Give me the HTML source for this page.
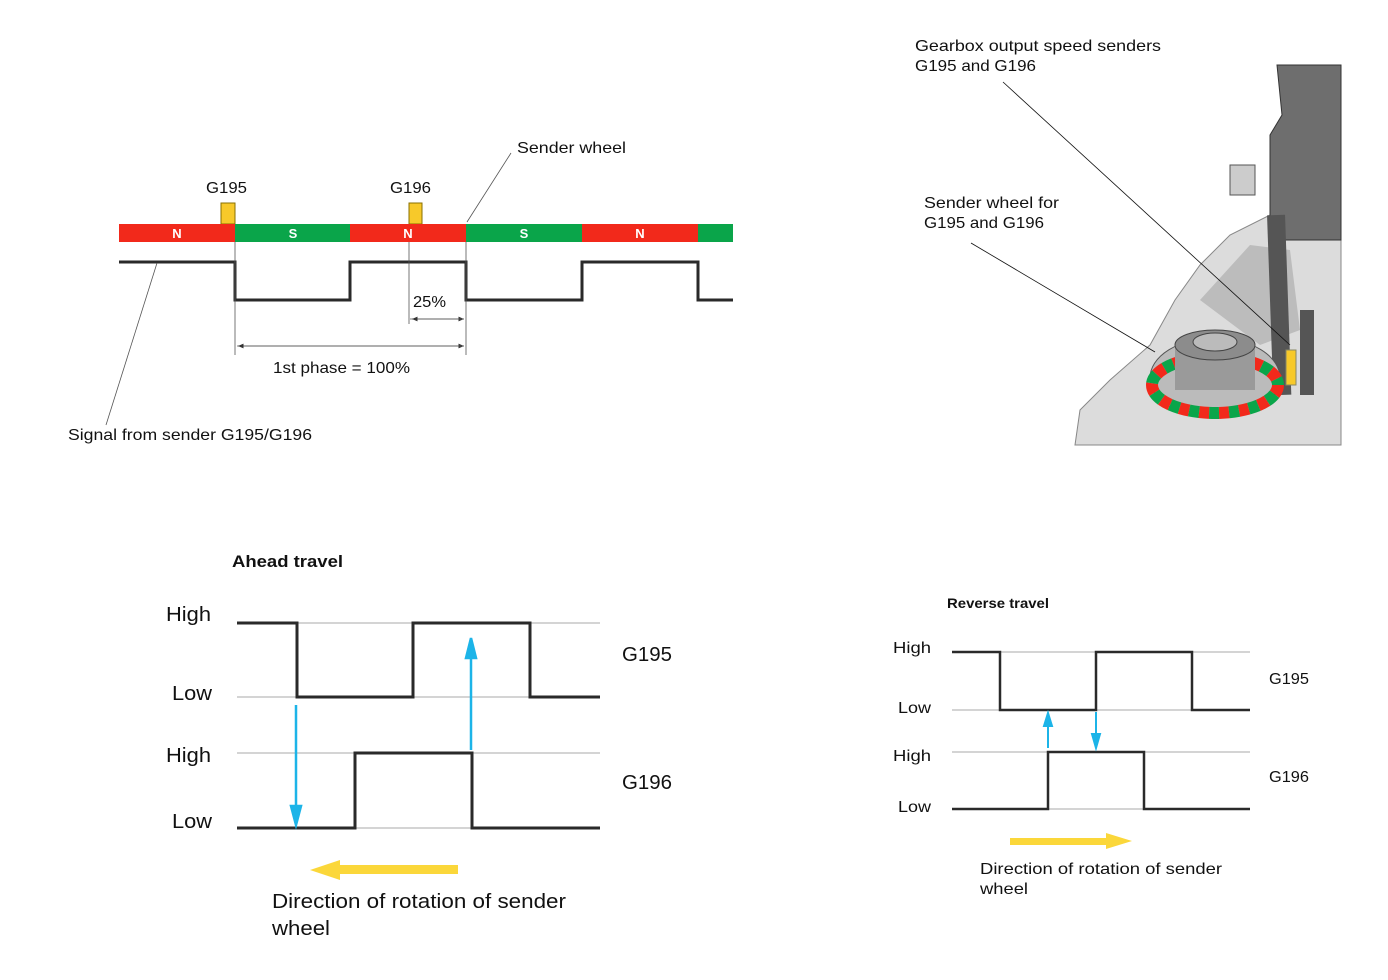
<!DOCTYPE html>
<html><head><style>
body{margin:0;background:#fff;}
svg{display:block;font-family:"Liberation Sans",sans-serif;}
</style></head><body>
<svg width="1388" height="980" viewBox="0 0 1388 980">
<defs>
<marker id="ah" markerWidth="8" markerHeight="8" refX="7" refY="4" orient="auto"><path d="M0,1 L7,4 L0,7 Z" fill="#333"/></marker>
</defs>
<!-- top diagram -->
<rect x="221" y="203" width="14" height="21" fill="#f7c92a" stroke="#8a7000" stroke-width="1"/>
<rect x="409" y="203" width="13" height="21" fill="#f7c92a" stroke="#8a7000" stroke-width="1"/>
<rect x="119" y="224" width="116" height="18" fill="#f2291b"/>
<rect x="235" y="224" width="115" height="18" fill="#0aa54a"/>
<rect x="350" y="224" width="116" height="18" fill="#f2291b"/>
<rect x="466" y="224" width="116" height="18" fill="#0aa54a"/>
<rect x="582" y="224" width="116" height="18" fill="#f2291b"/>
<rect x="698" y="224" width="35" height="18" fill="#0aa54a"/>
<g fill="#fff" font-weight="bold" font-size="13" text-anchor="middle">
<text x="177" y="238">N</text><text x="293" y="238">S</text><text x="408" y="238">N</text><text x="524" y="238">S</text><text x="640" y="238">N</text></g>
<polyline points="119,262 235,262 235,300 350,300 350,262 466,262 466,300 582,300 582,262 698,262 698,300 733,300" fill="none" stroke="#2a2a2a" stroke-width="3"/>
<g stroke="#555" stroke-width="0.8">
<line x1="235" y1="242" x2="235" y2="355"/><line x1="466" y1="242" x2="466" y2="355"/><line x1="409" y1="242" x2="409" y2="324"/>
<line x1="410" y1="319" x2="464" y2="319" marker-end="url(#ah)"/><line x1="464" y1="319" x2="412" y2="319" marker-end="url(#ah)"/>
<line x1="237" y1="346" x2="464" y2="346" marker-end="url(#ah)"/><line x1="464" y1="346" x2="238" y2="346" marker-end="url(#ah)"/>
<line x1="467" y1="222" x2="511" y2="153"/><line x1="157" y1="263" x2="106" y2="425"/>
</g>
<g font-size="16" fill="#111" lengthAdjust="spacingAndGlyphs">
<text x="206" y="193" textLength="41" lengthAdjust="spacingAndGlyphs">G195</text>
<text x="390" y="193" textLength="41" lengthAdjust="spacingAndGlyphs">G196</text>
<text x="517" y="153" textLength="109" lengthAdjust="spacingAndGlyphs">Sender wheel</text>
<text x="413" y="307" textLength="33" lengthAdjust="spacingAndGlyphs">25%</text>
<text x="273" y="373" textLength="137" lengthAdjust="spacingAndGlyphs">1st phase = 100%</text>
<text x="68" y="440" textLength="244" lengthAdjust="spacingAndGlyphs">Signal from sender G195/G196</text>
<text x="915" y="51" textLength="246" lengthAdjust="spacingAndGlyphs">Gearbox output speed senders</text>
<text x="915" y="71" textLength="121" lengthAdjust="spacingAndGlyphs">G195 and G196</text>
<text x="924" y="208" textLength="135" lengthAdjust="spacingAndGlyphs">Sender wheel for</text>
<text x="924" y="228" textLength="120" lengthAdjust="spacingAndGlyphs">G195 and G196</text>
</g>
<!-- illustration -->
<g>
<path d="M1075,445 L1080,410 L1110,380 L1150,345 L1175,300 L1200,265 L1230,235 L1270,215 L1341,215 L1341,445 Z" fill="#dcdcdc" stroke="#888"/>
<path d="M1200,300 L1250,245 L1290,250 L1300,330 L1260,345 Z" fill="#bcbcbc"/>
<path d="M1277,65 L1341,65 L1341,240 L1270,240 L1270,135 L1282,115 Z" fill="#6e6e6e" stroke="#333"/>
<path d="M1230,165 L1255,165 L1255,195 L1230,195 Z" fill="#ccc" stroke="#555"/>
<rect x="1270" y="215" width="18" height="180" fill="#555" transform="rotate(-2 1280 300)"/>
<rect x="1300" y="310" width="14" height="85" fill="#555"/>
<ellipse cx="1215" cy="378" rx="65" ry="40" fill="#bbb" stroke="#555"/>
<ellipse cx="1215" cy="385" rx="63" ry="28" fill="none" stroke="#f2291b" stroke-width="12" stroke-dasharray="10 10"/>
<ellipse cx="1215" cy="385" rx="63" ry="28" fill="none" stroke="#0aa54a" stroke-width="12" stroke-dasharray="10 10" stroke-dashoffset="10"/>
<rect x="1175" y="345" width="80" height="45" fill="#9a9a9a"/>
<ellipse cx="1215" cy="345" rx="40" ry="15" fill="#8c8c8c" stroke="#444"/>
<ellipse cx="1215" cy="342" rx="22" ry="9" fill="#bbb" stroke="#444"/>
<rect x="1286" y="350" width="10" height="35" fill="#f7c92a" stroke="#886"/>
<g stroke="#111" stroke-width="0.8"><line x1="1003" y1="82" x2="1290" y2="345"/><line x1="971" y1="243" x2="1155" y2="352"/></g>
</g>
<!-- bottom left -->
<g font-size="20" fill="#111">
<text x="232" y="567" font-size="17" font-weight="bold" textLength="111" lengthAdjust="spacingAndGlyphs">Ahead travel</text>
<text x="166" y="621" textLength="45" lengthAdjust="spacingAndGlyphs">High</text>
<text x="172" y="700" textLength="40" lengthAdjust="spacingAndGlyphs">Low</text>
<text x="166" y="762" textLength="45" lengthAdjust="spacingAndGlyphs">High</text>
<text x="172" y="828" textLength="40" lengthAdjust="spacingAndGlyphs">Low</text>
<text x="622" y="661" textLength="50" lengthAdjust="spacingAndGlyphs">G195</text>
<text x="622" y="789" textLength="50" lengthAdjust="spacingAndGlyphs">G196</text>
<text x="272" y="908" textLength="294" lengthAdjust="spacingAndGlyphs">Direction of rotation of sender</text>
<text x="272" y="935" textLength="58" lengthAdjust="spacingAndGlyphs">wheel</text>
</g>
<g stroke="#aaa" stroke-width="1"><line x1="237" y1="623" x2="600" y2="623"/><line x1="237" y1="697" x2="600" y2="697"/><line x1="237" y1="753" x2="600" y2="753"/><line x1="237" y1="828" x2="600" y2="828"/></g>
<polyline points="237,623 297,623 297,697 413,697 413,623 530,623 530,697 600,697" fill="none" stroke="#2a2a2a" stroke-width="3"/>
<polyline points="237,828 355,828 355,753 472,753 472,828 600,828" fill="none" stroke="#2a2a2a" stroke-width="3"/>
<g stroke="#1cb4e8" stroke-width="2.5" fill="#1cb4e8">
<line x1="296" y1="705" x2="296" y2="810"/><path d="M291,806 L301,806 L296,825 Z"/>
<line x1="471" y1="750" x2="471" y2="655"/><path d="M466,658 L476,658 L471,638 Z"/>
</g>
<rect x="335" y="865" width="123" height="9" fill="#fbd73a"/><path d="M310,870 L340,860 L340,880 Z" fill="#fbd73a"/>
<!-- bottom right -->
<g font-size="16" fill="#111">
<text x="947" y="608" font-size="14" font-weight="bold" textLength="102" lengthAdjust="spacingAndGlyphs">Reverse travel</text>
<text x="893" y="653" textLength="38" lengthAdjust="spacingAndGlyphs">High</text>
<text x="898" y="713" textLength="33" lengthAdjust="spacingAndGlyphs">Low</text>
<text x="893" y="761" textLength="38" lengthAdjust="spacingAndGlyphs">High</text>
<text x="898" y="812" textLength="33" lengthAdjust="spacingAndGlyphs">Low</text>
<text x="1269" y="684" textLength="40" lengthAdjust="spacingAndGlyphs">G195</text>
<text x="1269" y="782" textLength="40" lengthAdjust="spacingAndGlyphs">G196</text>
<text x="980" y="874" textLength="242" lengthAdjust="spacingAndGlyphs">Direction of rotation of sender</text>
<text x="980" y="894" textLength="48" lengthAdjust="spacingAndGlyphs">wheel</text>
</g>
<g stroke="#aaa" stroke-width="1"><line x1="952" y1="652" x2="1250" y2="652"/><line x1="952" y1="710" x2="1250" y2="710"/><line x1="952" y1="752" x2="1250" y2="752"/><line x1="952" y1="809" x2="1250" y2="809"/></g>
<polyline points="952,652 1000,652 1000,710 1096,710 1096,652 1192,652 1192,710 1250,710" fill="none" stroke="#2a2a2a" stroke-width="2.5"/>
<polyline points="952,809 1048,809 1048,752 1144,752 1144,809 1250,809" fill="none" stroke="#2a2a2a" stroke-width="2.5"/>
<g stroke="#1cb4e8" stroke-width="2" fill="#1cb4e8">
<line x1="1048" y1="748" x2="1048" y2="724"/><path d="M1044,726 L1052,726 L1048,713 Z"/>
<line x1="1096" y1="712" x2="1096" y2="736"/><path d="M1092,734 L1100,734 L1096,748 Z"/>
</g>
<rect x="1010" y="838" width="100" height="7" fill="#fbd73a"/><path d="M1132,841 L1106,833 L1106,849 Z" fill="#fbd73a"/>
</svg>
</body></html>
